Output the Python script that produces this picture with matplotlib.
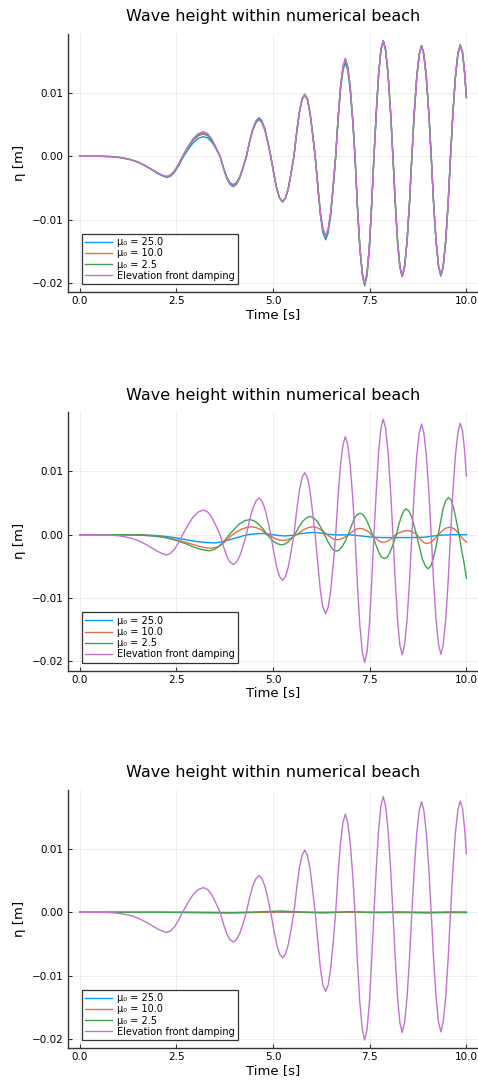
import numpy as np
import matplotlib
matplotlib.use("Agg")
import matplotlib.pyplot as plt

# surface elevation samples, stored in mm, time in s
t_front = [0.0, 0.5, 0.8, 1.05, 1.3, 1.5, 1.7, 1.87, 2.02, 2.14, 2.25,
           2.35, 2.455, 2.56, 2.66,
           2.795, 2.93, 3.065, 3.2,
           3.31, 3.415, 3.52, 3.63,
           3.715, 3.8, 3.885, 3.97,
           4.055, 4.14, 4.225, 4.31,
           4.39, 4.475, 4.56, 4.64,
           4.715, 4.79, 4.865, 4.94,
           5.02, 5.095, 5.17, 5.25,
           5.32, 5.395, 5.465, 5.54,
           5.61, 5.68, 5.75, 5.82,
           5.89, 5.955, 6.02, 6.09,
           6.16, 6.225, 6.29, 6.36,
           6.425, 6.49, 6.555, 6.62,
           6.68, 6.745, 6.81, 6.87,
           6.93, 6.995, 7.06, 7.12,
           7.18, 7.245, 7.31, 7.37,
           7.43, 7.49, 7.55, 7.61,
           7.67, 7.73, 7.79, 7.85,
           7.91, 7.975, 8.04, 8.1,
           8.16, 8.22, 8.28, 8.34,
           8.4, 8.465, 8.53, 8.59,
           8.65, 8.715, 8.78, 8.84,
           8.9, 8.965, 9.03, 9.09,
           9.15, 9.215, 9.28, 9.34,
           9.4, 9.465, 9.53, 9.59,
           9.65, 9.715, 9.78, 9.84,
           9.9, 9.95, 10.0]

eta_front = [0, 0, -0.05, -0.2, -0.5, -0.9, -1.5, -2.1, -2.65, -3.0, -3.2,
             -2.95, -2.27, -1.22, 0,
             1.48, 2.77, 3.59, 3.9,
             3.59, 2.77, 1.48, 0,
             -1.79, -3.34, -4.32, -4.7,
             -4.32, -3.34, -1.79, 0,
             2.2, 4.12, 5.34, 5.8,
             5.34, 4.12, 2.2, 0,
             -2.74, -5.11, -6.62, -7.2,
             -6.62, -5.11, -2.74, 0,
             3.72, 6.96, 9.02, 9.8,
             9.02, 6.96, 3.72, 0,
             -4.75, -8.88, -11.5, -12.5,
             -11.5, -8.88, -4.75, 0,
             5.89, 11.0, 14.26, 15.5,
             14.26, 11.0, 5.89, 0,
             -7.68, -14.34, -18.58, -20.2,
             -18.58, -14.34, -7.68, 0,
             6.95, 12.99, 16.84, 18.3,
             16.84, 12.99, 6.95, 0,
             -7.22, -13.49, -17.48, -19.0,
             -17.48, -13.49, -7.22, 0,
             6.65, 12.43, 16.1, 17.5,
             16.1, 12.43, 6.65, 0,
             -7.18, -13.42, -17.39, -18.9,
             -17.39, -13.42, -7.18, 0,
             6.69, 12.5, 16.19, 17.6,
             16.4, 13.5, 9.3]

# case 1: gauge in front of the beach, sampled at the same times as the front series
eta1_mu25 = [0, 0, -0.05, -0.2, -0.5, -0.9, -1.5, -2.15, -2.75, -3.1, -3.35,
             -3.15, -2.5, -1.5, -0.3,
             1.0, 2.1, 2.85, 3.1,
             2.9, 2.25, 1.25, 0,
             -1.7, -3.2, -4.15, -4.5,
             -4.15, -3.2, -1.75, -0.1,
             2.2, 4.3, 5.6, 6.1,
             5.6, 4.35, 2.35, 0.1,
             -2.7, -5.1, -6.6, -7.2,
             -6.62, -5.11, -2.74, 0,
             3.69, 6.89, 8.92, 9.7,
             8.92, 6.89, 3.69, 0,
             -5.02, -9.37, -12.14, -13.2,
             -12.14, -9.37, -5.02, 0,
             5.62, 10.51, 13.62, 14.8,
             13.62, 10.51, 5.62, 0,
             -7.79, -14.56, -18.86, -20.5,
             -18.86, -14.56, -7.79, 0,
             6.92, 12.92, 16.75, 18.2,
             16.84, 12.99, 6.95, 0,
             -7.22, -13.49, -17.48, -19.0,
             -17.48, -13.49, -7.22, 0,
             6.65, 12.43, 16.1, 17.5,
             16.1, 12.43, 6.65, 0,
             -7.18, -13.42, -17.39, -18.9,
             -17.39, -13.42, -7.18, 0,
             6.69, 12.5, 16.19, 17.6,
             16.4, 13.5, 9.3]
eta1_mu10 = [0, 0, -0.05, -0.2, -0.5, -0.9, -1.5, -2.12, -2.7, -3.05, -3.27,
             -3.05, -2.4, -1.35, -0.1,
             1.3, 2.5, 3.25, 3.5,
             3.25, 2.5, 1.35, 0,
             -1.82, -3.41, -4.42, -4.8,
             -4.42, -3.41, -1.82, 0,
             2.24, 4.19, 5.43, 5.9,
             5.43, 4.19, 2.24, 0,
             -2.74, -5.11, -6.62, -7.2,
             -6.62, -5.11, -2.74, 0,
             3.72, 6.96, 9.02, 9.8,
             9.02, 6.96, 3.72, 0,
             -4.86, -9.09, -11.78, -12.8,
             -11.78, -9.09, -4.86, 0,
             5.81, 10.86, 14.08, 15.3,
             14.08, 10.86, 5.81, 0,
             -7.71, -14.41, -18.68, -20.3,
             -18.68, -14.41, -7.71, 0,
             6.95, 12.99, 16.84, 18.3,
             16.84, 12.99, 6.95, 0,
             -7.22, -13.49, -17.48, -19.0,
             -17.48, -13.49, -7.22, 0,
             6.65, 12.43, 16.1, 17.5,
             16.1, 12.43, 6.65, 0,
             -7.18, -13.42, -17.39, -18.9,
             -17.39, -13.42, -7.18, 0,
             6.69, 12.5, 16.19, 17.6,
             16.4, 13.5, 9.3]
eta1_mu2 = [0, 0, -0.05, -0.2, -0.5, -0.9, -1.5, -2.1, -2.65, -3.0, -3.22,
            -2.97, -2.3, -1.25, 0,
            1.41, 2.63, 3.4, 3.7,
            3.4, 2.63, 1.41, 0,
            -1.82, -3.41, -4.42, -4.8,
            -4.42, -3.41, -1.82, 0,
            2.2, 4.12, 5.34, 5.8,
            5.34, 4.12, 2.2, 0,
            -2.74, -5.11, -6.62, -7.2,
            -6.62, -5.11, -2.74, 0,
            3.72, 6.96, 9.02, 9.8,
            9.02, 6.96, 3.72, 0,
            -4.79, -8.95, -11.59, -12.6,
            -11.59, -8.95, -4.79, 0,
            5.85, 10.93, 14.17, 15.4,
            14.17, 10.93, 5.85, 0,
            -7.68, -14.34, -18.58, -20.2,
            -18.58, -14.34, -7.68, 0,
            6.95, 12.99, 16.84, 18.3,
            16.84, 12.99, 6.95, 0,
            -7.22, -13.49, -17.48, -19.0,
            -17.48, -13.49, -7.22, 0,
            6.65, 12.43, 16.1, 17.5,
            16.1, 12.43, 6.65, 0,
            -7.18, -13.42, -17.39, -18.9,
            -17.39, -13.42, -7.18, 0,
            6.69, 12.5, 16.19, 17.6,
            16.4, 13.5, 9.3]

# case 2: gauge inside the beach
t2_mu25 = [0.0, 1.2, 1.6, 1.9, 2.2, 2.5, 2.8, 3.05, 3.3, 3.5, 3.7, 3.9, 4.1, 4.3,
           4.5, 4.7, 4.9, 5.1, 5.3, 5.5, 5.7, 5.9, 6.05, 6.25, 6.45, 6.7, 6.95,
           7.2, 7.5, 7.8, 8.2, 8.6, 8.9, 9.1, 9.3, 9.6, 10.0]
eta2_mu25 = [0, 0, -0.03, -0.1, -0.25, -0.5, -0.85, -1.1, -1.25, -1.3, -1.1, -0.75, -0.4, -0.05,
             0.12, 0.2, 0.1, -0.1, -0.2, -0.1, 0.15, 0.3, 0.35, 0.25, 0.05, -0.05, 0.0,
             -0.15, -0.35, -0.45, -0.45, -0.45, -0.4, -0.25, -0.08, 0.0, 0.0]

t2_mu10 = [0.0, 1.0, 1.6, 2.0, 2.3, 2.6, 2.85, 3.1, 3.25, 3.4,
           3.54, 3.68, 3.81, 3.95,
           4.07, 4.2, 4.32, 4.44,
           4.55, 4.66, 4.76, 4.87,
           4.97, 5.07, 5.16, 5.26,
           5.35, 5.44, 5.52, 5.61,
           5.72, 5.82, 5.93, 6.03,
           6.12, 6.21, 6.31, 6.4,
           6.47, 6.53, 6.6, 6.66,
           6.73, 6.8, 6.88, 6.95,
           7.03, 7.1, 7.18, 7.25,
           7.33, 7.4, 7.48, 7.55,
           7.63, 7.71, 7.78, 7.86,
           7.94, 8.01, 8.09, 8.17,
           8.25, 8.32, 8.4, 8.47,
           8.53, 8.6, 8.66, 8.72,
           8.79, 8.85, 8.92, 8.98,
           9.05, 9.12, 9.2, 9.27,
           9.35, 9.42, 9.5, 9.57,
           9.63, 9.7, 9.76, 9.82,
           9.88, 9.94, 10.0]
eta2_mu10 = [0, 0, -0.05, -0.2, -0.5, -0.95, -1.4, -1.85, -2.05, -2.15,
             -1.98, -1.53, -0.82, 0,
             0.48, 0.89, 1.15, 1.25,
             1.15, 0.89, 0.48, 0,
             -0.34, -0.64, -0.83, -0.9,
             -0.83, -0.64, -0.34, 0,
             0.48, 0.89, 1.15, 1.25,
             1.15, 0.89, 0.48, 0,
             -0.3, -0.57, -0.74, -0.8,
             -0.74, -0.57, -0.3, 0,
             0.38, 0.71, 0.92, 1.0,
             0.92, 0.71, 0.38, 0,
             -0.46, -0.85, -1.1, -1.2,
             -1.1, -0.85, -0.46, 0,
             0.25, 0.46, 0.6, 0.65,
             0.6, 0.46, 0.25, 0,
             -0.53, -0.99, -1.29, -1.4,
             -1.29, -0.99, -0.53, 0,
             0.46, 0.85, 1.1, 1.2,
             1.1, 0.85, 0.46, 0,
             -0.45, -0.85, -1.15]

t2_mu2 = [0.0, 1.0, 1.5, 1.9, 2.2, 2.5, 2.75, 2.95, 3.12, 3.35,
          3.48, 3.61, 3.74, 3.87,
          4.0, 4.13, 4.27, 4.4,
          4.51, 4.62, 4.74, 4.85,
          4.94, 5.03, 5.13, 5.22,
          5.31, 5.39, 5.48, 5.56,
          5.66, 5.76, 5.86, 5.96,
          6.05, 6.15, 6.24, 6.33,
          6.41, 6.49, 6.56, 6.64,
          6.72, 6.79, 6.87, 6.94,
          7.02, 7.09, 7.17, 7.25,
          7.33, 7.41, 7.49, 7.57,
          7.65, 7.73, 7.8, 7.88,
          7.96, 8.03, 8.11, 8.19,
          8.25, 8.32, 8.38, 8.44,
          8.51, 8.58, 8.64, 8.71,
          8.79, 8.86, 8.94, 9.01,
          9.08, 9.14, 9.21, 9.27,
          9.34, 9.4, 9.47, 9.54,
          9.61, 9.67, 9.74, 9.81,
          9.87, 9.94, 10.0]
eta2_mu2 = [0, 0, -0.05, -0.2, -0.45, -0.9, -1.45, -1.95, -2.3, -2.55,
            -2.35, -1.8, -0.97, 0,
            0.91, 1.7, 2.21, 2.4,
            2.21, 1.7, 0.91, 0,
            -0.61, -1.14, -1.47, -1.6,
            -1.47, -1.14, -0.61, 0,
            1.1, 2.06, 2.67, 2.9,
            2.67, 2.06, 1.1, 0,
            -0.99, -1.85, -2.39, -2.6,
            -2.39, -1.85, -0.99, 0,
            1.29, 2.41, 3.13, 3.4,
            3.13, 2.41, 1.29, 0,
            -1.44, -2.7, -3.5, -3.8,
            -3.5, -2.7, -1.44, 0,
            1.56, 2.91, 3.77, 4.1,
            3.77, 2.91, 1.56, 0,
            -2.05, -3.83, -4.97, -5.4,
            -4.97, -3.83, -2.05, 0,
            2.24, 4.19, 5.43, 5.9,
            5.43, 4.19, 2.24, 0,
            -2.2, -4.5, -6.9]

# case 3: gauge deep in the beach, almost fully damped
t3_mu25 = [0.0, 3.0, 4.0, 5.0, 6.0, 7.0, 8.0, 10.0]
eta3_mu25 = [0, 0, -0.03, 0.0, 0.0, 0.0, 0.0, 0.0]
t3_mu10 = [0.0, 2.0, 3.0, 4.0, 4.8, 5.3, 6.0, 7.0, 8.0, 9.0, 10.0]
eta3_mu10 = [0, 0, -0.03, -0.08, 0.0, 0.05, -0.05, 0.0, -0.05, -0.05, -0.05]
t3_mu2 = [0.0, 2.0, 3.0, 3.8, 4.4, 5.2, 5.9, 6.3, 7.0, 7.6, 8.3, 9.0, 9.6, 10.0]
eta3_mu2 = [0, 0, -0.05, -0.1, 0.0, 0.2, 0.0, -0.1, 0.1, -0.05, 0.05, -0.1, 0.05, 0.0]

labels = ["μ₀ = 25.0", "μ₀ = 10.0", "μ₀ = 2.5", "Elevation front damping"]
colors = ["#009AFA", "#E36F47", "#3EA44E", "#C371D2"]

panels = [
    [(t_front, eta1_mu25), (t_front, eta1_mu10), (t_front, eta1_mu2)],
    [(t2_mu25, eta2_mu25), (t2_mu10, eta2_mu10), (t2_mu2, eta2_mu2)],
    [(t3_mu25, eta3_mu25), (t3_mu10, eta3_mu10), (t3_mu2, eta3_mu2)],
]

fig = plt.figure(figsize=(4.78, 10.8), dpi=100)
bottoms = [0.7294, 0.379, 0.0294]
for series, bottom in zip(panels, bottoms):
    ax = fig.add_axes([0.1416, bottom, 0.8584, 0.2395])
    for (t, eta), lab, col in zip(series, labels, colors):
        ax.plot(t, np.array(eta) / 1000, color=col, lw=1.0, label=lab)
    ax.plot(t_front, np.array(eta_front) / 1000, color=colors[3], lw=1.0, label=labels[3])

    ax.set_xlim(-0.31, 10.3)
    ax.set_ylim(-0.0215, 0.0194)
    ax.set_xticks([0, 2.5, 5, 7.5, 10])
    ax.set_xticklabels(["0.0", "2.5", "5.0", "7.5", "10.0"])
    ax.set_yticks([-0.02, -0.01, 0.0, 0.01])
    ax.set_yticklabels(["\u22120.02", "\u22120.01", "0.00", "0.01"])
    ax.grid(True, color="black", alpha=0.08, lw=0.6)
    for side in ["top", "right"]:
        ax.spines[side].set_visible(False)
    for side in ["left", "bottom"]:
        ax.spines[side].set_color("#333333")
        ax.spines[side].set_linewidth(1.0)
    ax.tick_params(direction="in", length=3, width=0.8, labelsize=7.5,
                   colors="#333333", labelcolor="black", pad=3)
    ax.set_title("Wave height within numerical beach", fontsize=11.5, pad=9)
    ax.set_xlabel("Time [s]", fontsize=9.5, labelpad=1)
    ax.set_ylabel("η [m]", fontsize=9.5, labelpad=4)
    leg = ax.legend(loc="lower left", bbox_to_anchor=(0.034, 0.031), borderaxespad=0,
                    fontsize=7, fancybox=False, framealpha=1, edgecolor="#333333",
                    handlelength=2.8, labelspacing=0.12, borderpad=0.35, handletextpad=0.5)
    leg.get_frame().set_linewidth(0.9)

fig.savefig("out.png", dpi=100)
